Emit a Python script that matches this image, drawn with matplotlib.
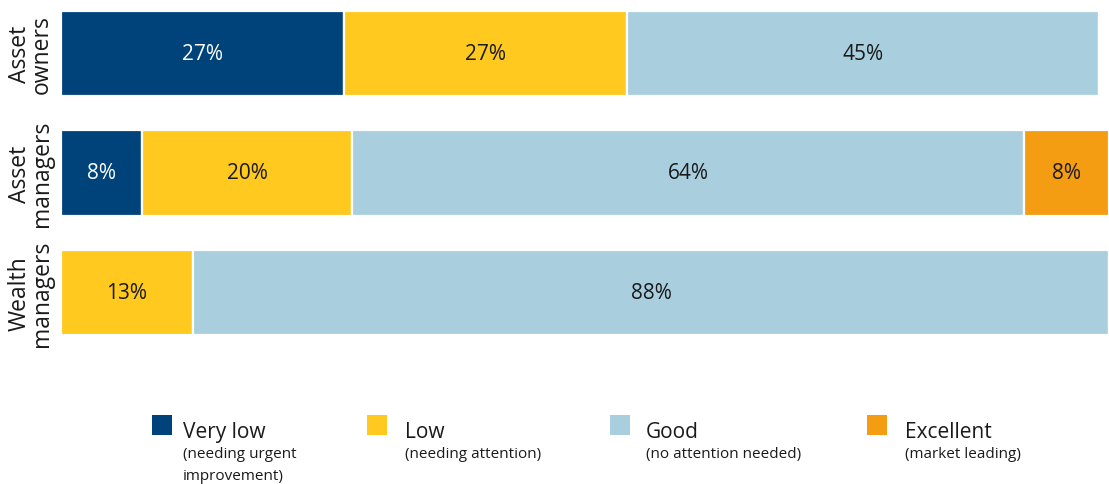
import matplotlib
matplotlib.use("Agg")
import matplotlib.pyplot as plt
from matplotlib.patches import Rectangle

plt.rcParams['font.family'] = ['Open Sans', 'DejaVu Sans']

categories = ["Asset\nowners", "Asset\nmanagers", "Wealth\nmanagers"]
levels = ["Very low", "Low", "Good", "Excellent"]
level_notes = ["(needing urgent\nimprovement)", "(needing attention)",
               "(no attention needed)", "(market leading)"]
values = {
    "Very low":  [27.0, 7.7, 0.0],
    "Low":       [27.0, 20.1, 12.6],
    "Good":      [45.0, 64.1, 87.4],
    "Excellent": [0.0, 8.1, 0.0],
}
labels = {
    "Very low":  ["27%", "8%", ""],
    "Low":       ["27%", "20%", "13%"],
    "Good":      ["45%", "64%", "88%"],
    "Excellent": ["", "8%", ""],
}
colors = ["#00427A", "#FFC91F", "#A9CFDF", "#F49C12"]
text_colors = ["white", "#1a1a1a", "#1a1a1a", "#1a1a1a"]

W, H = 1109, 485
fig = plt.figure(figsize=(W / 100, H / 100), dpi=100)
ax = fig.add_axes([61 / W, (H - 337) / H, (W - 61) / W, 326 / H])

ypos = list(range(len(categories)))
left = [0.0] * len(categories)
for lvl, col, tc in zip(levels, colors, text_colors):
    vals = values[lvl]
    bars = ax.barh(ypos, vals, left=left, height=0.71, color=col,
                   edgecolor="white", linewidth=1.6)
    for b, v, lab in zip(bars, vals, labels[lvl]):
        if v > 0 and lab:
            ax.text(b.get_x() + b.get_width() / 2, b.get_y() + b.get_height() / 2,
                    lab, ha="center", va="center", color=tc, fontsize=15)
    left = [l + v for l, v in zip(left, vals)]

ax.set_xlim(0, 100)
ax.set_ylim(2.36, -0.36)
ax.axis("off")

for y, cat in zip(ypos, categories):
    ax.text(-0.029, y, cat, transform=ax.get_yaxis_transform(),
            rotation=90, ha="center", va="center", fontsize=16.5,
            linespacing=0.9, color="#1a1a1a")

# legend
sq_x = [152, 367, 610, 867]
tx_x = [183, 405, 646, 905]
for lvl, note, col, sx, tx in zip(levels, level_notes, colors, sq_x, tx_x):
    fig.patches.append(Rectangle((sx / W, (H - 436) / H), 20 / W, 20 / H,
                                 transform=fig.transFigure, facecolor=col,
                                 edgecolor="none"))
    fig.text(tx / W, (H - 433) / H, lvl, ha="left", va="center",
             fontsize=15, color="#1a1a1a")
    fig.text(tx / W, (H - 447) / H, note, ha="left", va="top",
             fontsize=11, color="#1a1a1a", linespacing=1.65)

fig.savefig("out.png", dpi=100)
